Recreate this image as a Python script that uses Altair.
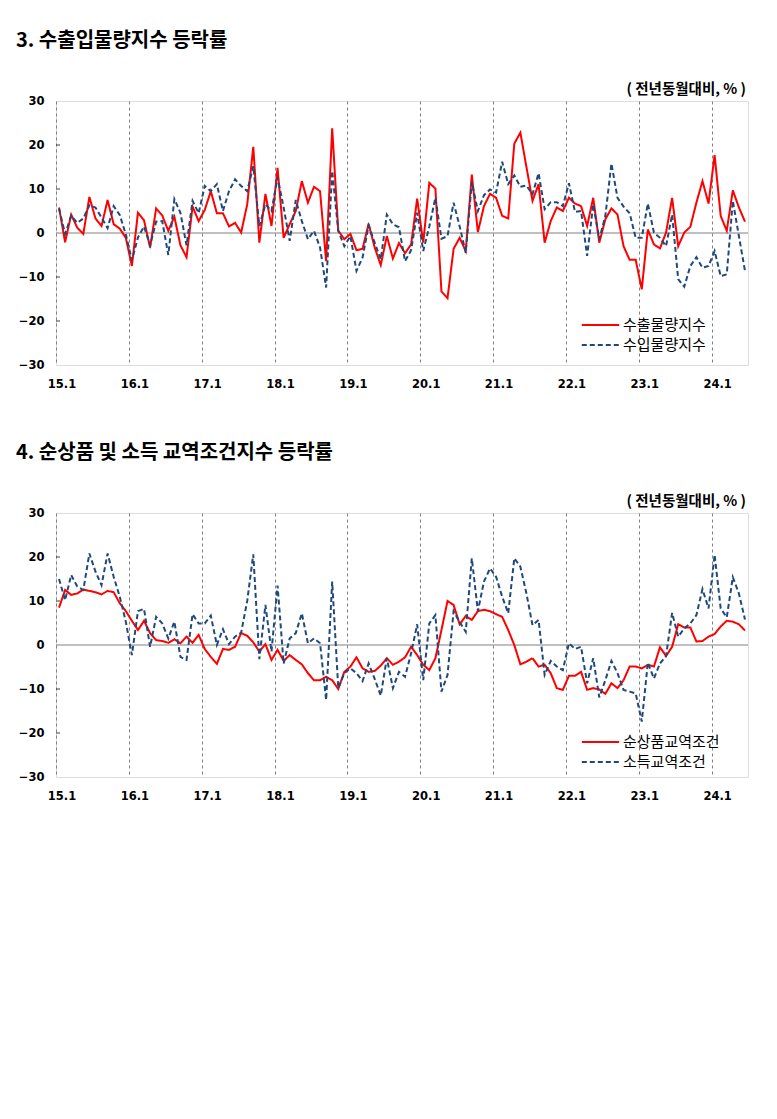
import json
import altair as alt
import pandas as pd

# ---------------- data ----------------
MONTHS = [f"{y}-{m:02d}" for y in range(2015, 2025) for m in range(1, 13)][:114]
YEAR_TICKS = ["15.1", "16.1", "17.1", "18.1", "19.1", "20.1", "21.1", "22.1", "23.1", "24.1"]
Y_TICKS = [-30, -20, -10, 0, 10, 20, 30]

TITLE_TOP = "3.  수출입물량지수  등락률"
TITLE_BOTTOM = "4.  순상품 및 소득 교역조건지수 등락률"
UNIT = "( 전년동월대비, % )"

SERIES_TOP = ["수출물량지수", "수입물량지수"]
SERIES_BOTTOM = ["순상품교역조건", "소득교역조건"]

EXPORT_VOL = [5.8, -2.1, 4.2, 1.2, -0.2, 8.2, 3.3, 1.6, 7.5, 2.0, 1.0, -1.1,
              -7.5, 4.6, 2.9, -3.3, 5.6, 4.0, 0.5, 3.7, -2.8, -5.5, 6.0, 2.7,
              5.2, 9.5, 4.5, 4.5, 1.5, 2.3, 0.1, 6.5, 19.6, -2.2, 8.9, 1.6,
              14.8, -1.1, 2.0, 5.0, 11.8, 6.9, 10.5, 9.5, -6.4, 23.8, 0.5, -1.4,
              -0.2, -3.9, -3.6, 2.1, -3.3, -7.3, -0.7, -5.8, -2.3, -4.6, -2.6, 7.8,
              -2.2, 11.4, 10.1, -13.3, -14.8, -3.6, -1.1, -4.1, 13.3, 0.2, 6.1, 8.9,
              8.0, 3.9, 3.3, 20.3, 22.8, 15.0, 7.3, 11.1, -2.2, 2.7, 5.8, 5.0,
              8.0, 6.7, 6.1, 1.6, 8.0, -2.2, 3.1, 5.6, 4.2, -3.0, -6.1, -6.1,
              -12.8, 0.8, -2.6, -3.5, 0.1, 8.0, -3.0, 0.1, 1.4, 6.9, 11.8, 6.7,
              17.7, 3.9, 0.5, 9.7, 5.8, 2.6]

IMPORT_VOL = [5.5, -0.2, 3.9, 2.3, 3.3, 6.3, 5.8, 3.5, 1.1, 6.1, 4.1, -0.3,
              -6.2, -1.0, 1.5, -2.8, 2.6, 2.7, -5.0, 7.7, 4.6, -2.8, 7.3, 4.5,
              10.7, 9.5, 11.1, 5.0, 9.5, 12.2, 10.7, 9.5, 15.2, 1.6, 6.5, 5.0,
              12.6, 5.8, -1.8, 7.5, 2.7, -1.4, 0.5, -3.3, -12.4, 14.1, 0.5, -3.0,
              -0.7, -8.6, -5.6, 1.7, -2.2, -6.0, 4.2, 2.0, 1.3, -6.4, -3.9, 4.6,
              -4.1, 1.5, 8.0, -1.3, -0.7, 6.9, 1.5, -4.5, 11.6, 5.0, 8.6, 9.9,
              9.2, 16.2, 11.1, 13.1, 10.5, 10.8, 8.8, 13.6, 5.4, 7.0, 7.0, 6.1,
              11.3, 4.8, 5.0, -5.2, 6.5, -1.4, 3.9, 15.8, 8.0, 6.0, 4.5, -1.1,
              -1.1, 6.7, 0.1, -1.1, -3.0, 4.2, -10.5, -12.2, -7.5, -5.5, -7.9, -7.5,
              -4.1, -9.8, -9.4, 7.3, -0.7, -8.6]

NET_TOT = [8.5, 12.5, 11.4, 11.7, 12.6, 12.3, 12.0, 11.5, 12.3, 12.0, 9.5, 7.7,
           5.5, 3.4, 5.5, 2.7, 1.1, 0.9, 0.5, 1.3, 0.4, 1.9, 0.5, 2.3,
           -0.9, -2.7, -4.3, -0.9, -1.1, -0.4, 2.7, 2.1, 0.6, -1.5, 0.2, -3.4,
           -1.1, -3.6, -2.3, -3.4, -4.4, -6.4, -8.0, -8.0, -7.2, -8.0, -10.0, -6.1,
           -4.9, -2.8, -5.3, -6.1, -5.9, -4.7, -3.0, -4.5, -3.8, -2.8, -0.4, -2.3,
           -4.5, -5.7, -3.0, 3.4, 10.0, 9.1, 4.7, 6.6, 5.7, 7.7, 8.0, 7.7,
           7.0, 6.4, 3.4, 0.0, -4.4, -3.8, -3.0, -4.9, -4.5, -6.4, -9.8, -10.2,
           -7.0, -7.0, -6.1, -10.2, -9.8, -10.1, -11.1, -8.7, -9.8, -8.0, -4.9, -4.9,
           -5.3, -4.5, -4.9, -0.5, -2.5, -0.4, 4.7, 4.0, 4.0, 0.8, 0.9, 1.9,
           2.5, 4.2, 5.5, 5.3, 4.7, 3.3]

INCOME_TOT = [15.0, 10.2, 15.9, 13.3, 12.5, 20.8, 16.7, 13.6, 20.8, 15.5, 11.0, 5.3,
              -2.3, 7.7, 8.2, -0.4, 6.4, 4.9, 1.5, 5.3, -2.7, -3.4, 7.0, 4.9,
              4.9, 6.7, 0.0, 3.6, 0.2, 1.9, 2.8, 10.0, 20.6, -3.2, 9.1, -1.5,
              13.5, -4.2, 1.5, 2.7, 7.2, 0.4, 1.5, 0.4, -12.5, 14.4, -9.8, -6.4,
              -5.3, -6.4, -8.2, -4.2, -7.7, -11.5, -3.0, -9.8, -6.1, -7.2, -1.9, 4.7,
              -8.0, 4.9, 6.8, -10.6, -6.8, 7.7, 5.2, 3.0, 19.7, 7.7, 14.4, 17.4,
              15.5, 11.0, 7.2, 19.7, 17.8, 11.7, 4.5, 5.7, -6.8, -3.6, -4.9, -5.7,
              0.4, -0.9, -0.4, -8.7, -3.0, -11.9, -8.0, -3.6, -6.4, -10.2, -10.6, -11.0,
              -17.4, -4.0, -7.6, -4.2, -2.5, 7.3, 1.9, 3.8, 4.9, 6.8, 12.7, 8.3,
              20.5, 8.3, 6.3, 15.4, 11.7, 5.8]

RED = "#FF0000"
BLUE = "#1F497D"
KFONT = "Noto Sans CJK KR"
NFONT = "DejaVu Sans"

W, H = 692, 264
N = len(MONTHS)


def long_df(names, a, b):
    rows = []
    for name, vals in zip(names, (a, b)):
        for i, (m, v) in enumerate(zip(MONTHS, vals)):
            rows.append({"idx": i, "month": m, "series": name, "value": v})
    return pd.DataFrame(rows)


label_expr = json.dumps(YEAR_TICKS) + "[round((datum.value + 0.5) / 12)]"


def panel(title, names, a, b, legend_y):
    df = long_df(names, a, b)
    xenc = alt.X(
        "idx:Q",
        scale=alt.Scale(domain=[-0.5, N - 0.5], nice=False, zero=False),
        axis=alt.Axis(
            values=[12 * k - 0.5 for k in range(len(YEAR_TICKS))],
            labelExpr=label_expr, title=None, grid=True, gridDash=[3, 3],
            gridColor="#808080", gridWidth=1, ticks=False, domain=False,
            labelFont=NFONT, labelFontSize=11.5, labelFontWeight="bold",
            labelColor="black", labelOffset=5.5, labelFlush=False,
            labelOverlap=False, labelPadding=13,
        ),
    )
    yenc = alt.Y(
        "value:Q",
        scale=alt.Scale(domain=[-30, 30], nice=False, zero=False),
        axis=alt.Axis(
            values=Y_TICKS, title=None, grid=False, ticks=False, domain=False,
            labelFont=NFONT, labelFontSize=11.5, labelFontWeight="bold",
            labelColor="black", labelPadding=12,
        ),
    )
    leg = alt.Legend(
        title=None, orient="none", legendX=532.5, legendY=legend_y,
        symbolType="M-1.7,0L1.7,0", symbolSize=484, symbolStrokeWidth=2,
        labelFont=KFONT, labelFontSize=15, labelColor="black",
        labelOffset=10.5, rowPadding=0, padding=0,
    )
    color = alt.Color("series:N", scale=alt.Scale(domain=names, range=[RED, BLUE]), legend=leg)
    dash = alt.StrokeDash("series:N", scale=alt.Scale(domain=names, range=[[1, 0], [5, 3]]), legend=leg)

    zero = alt.Chart(pd.DataFrame({"v": [0]})).mark_rule(color="#808080", strokeWidth=1).encode(
        y=alt.Y("v:Q", scale=alt.Scale(domain=[-30, 30], nice=False)))
    ticks = alt.Chart(pd.DataFrame({"v": [t for t in Y_TICKS if abs(t) < 30 and t != 0]})).mark_rule(
        color="#404040", strokeWidth=1).encode(
        y=alt.Y("v:Q", scale=alt.Scale(domain=[-30, 30], nice=False)),
        x=alt.value(0), x2=alt.value(4))
    red = alt.Chart(df).transform_filter(alt.datum.series == names[0]).mark_line(
        strokeWidth=2).encode(x=xenc, y=yenc, color=color, strokeDash=dash)
    blue = alt.Chart(df).transform_filter(alt.datum.series == names[1]).mark_line(
        strokeWidth=2).encode(x=xenc, y=yenc, color=color, strokeDash=dash)
    ttl = alt.Chart(pd.DataFrame({"t": [title]})).mark_text(
        align="left", baseline="middle", font=KFONT, fontSize=20, fontWeight="bold",
        color="black").encode(text="t:N", x=alt.value(-40), y=alt.value(-60))
    unit = alt.Chart(pd.DataFrame({"t": [UNIT]})).mark_text(
        align="right", baseline="middle", font=KFONT, fontSize=14.5, fontWeight="bold",
        color="black").encode(text="t:N", x=alt.value(W - 2), y=alt.value(-11))
    return alt.layer(zero, ticks, red, blue, unit, ttl).properties(width=W, height=H)


top = panel(TITLE_TOP, SERIES_TOP, EXPORT_VOL, IMPORT_VOL, 212)
bottom = panel(TITLE_BOTTOM, SERIES_BOTTOM, NET_TOT, INCOME_TOT, 217)

chart = alt.vconcat(top, bottom, spacing=148, bounds="flush").resolve_scale(
    x="independent", y="independent", color="independent", strokeDash="independent"
).resolve_legend(color="independent", strokeDash="independent").properties(
    padding={"left": 7, "top": 22, "right": 5, "bottom": 5}
).configure_view(stroke="#111111", strokeWidth=1.5).configure(background="white")

chart.save("out.html", embed_options={"renderer": "svg", "actions": False})
